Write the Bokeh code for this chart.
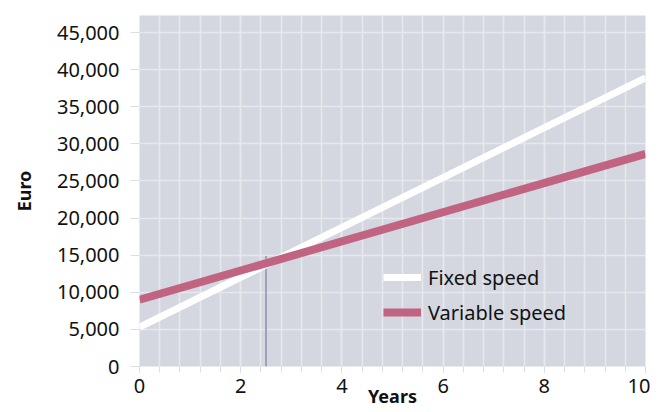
from bokeh.plotting import figure
from bokeh.models import (Range1d, SingleIntervalTicker, NumeralTickFormatter,
                          Legend, LegendItem)
from bokeh.embed import file_html
from bokeh.resources import INLINE

years = [0, 10]
fixed_speed = [5300, 38900]
variable_speed = [9000, 28650]
break_even_year = [2.5]
break_even_top = [14900]
break_even_bottom = [0]

FONT = "Noto Sans"
BG = "#d4d7e0"
GRID = "#e6e8ee"
TICK = "#dcdee6"
PINK = "#c06482"

p = figure(width=650, height=412, output_backend="svg", toolbar_location=None,
           x_range=Range1d(0, 10), y_range=Range1d(0, 47300),
           min_border_left=139, min_border_right=5, min_border_top=15,
           min_border_bottom=46)
p.background_fill_color = BG
p.border_fill_color = "white"
p.outline_line_color = None

p.xaxis.ticker = SingleIntervalTicker(interval=2, num_minor_ticks=5)
p.yaxis.ticker = SingleIntervalTicker(interval=5000, num_minor_ticks=0)
p.yaxis.formatter = NumeralTickFormatter(format="0,0")

p.xgrid.grid_line_color = GRID
p.xgrid.minor_grid_line_color = GRID
p.ygrid.grid_line_color = GRID
p.xgrid.grid_line_width = 1.5
p.xgrid.minor_grid_line_width = 1.5
p.ygrid.grid_line_width = 1.5

for ax in (p.xaxis[0], p.yaxis[0]):
    ax.axis_line_color = None
    ax.major_tick_line_color = TICK
    ax.minor_tick_line_color = TICK
    ax.major_tick_in = 0
    ax.minor_tick_in = 0
    ax.major_label_text_font = FONT
    ax.major_label_text_font_size = "20px"
    ax.major_label_text_color = "#111111"
    ax.axis_label_text_font = FONT
    ax.axis_label_text_font_style = "bold"
    ax.axis_label_text_font_size = "18px"
    ax.axis_label_text_color = "#111111"

p.xaxis.major_tick_out = 6
p.xaxis.minor_tick_out = 6
p.xaxis.major_label_standoff = 6
p.xaxis.axis_label = "Years"
p.xaxis.axis_label_standoff = -12

p.yaxis.major_tick_out = 9
p.yaxis.minor_tick_out = 0
p.yaxis.major_label_standoff = 11
p.yaxis.major_label_text_baseline = "alphabetic"
p.yaxis.axis_label = "Euro"
p.yaxis.axis_label_standoff = 18

p.segment(x0=break_even_year, y0=break_even_bottom, x1=break_even_year,
          y1=break_even_top, line_color="#9ea3b8", line_width=2)

r_fixed = p.line(years, fixed_speed, line_color="white", line_width=7)
r_var = p.line(years, variable_speed, line_color=PINK, line_width=8)

legend = Legend(items=[LegendItem(label="Fixed speed", renderers=[r_fixed]),
                       LegendItem(label="Variable speed", renderers=[r_var])],
                location=(244, 39))
legend.background_fill_alpha = 0
legend.border_line_color = None
legend.padding = 0
legend.margin = 0
legend.spacing = 5
legend.glyph_width = 38
legend.glyph_height = 30
legend.label_height = 30
legend.label_standoff = 7
legend.label_text_font = FONT
legend.label_text_font_size = "20px"
legend.label_text_color = "#111111"
p.add_layout(legend, "center")

open("out.html", "w").write(file_html(p, INLINE))
